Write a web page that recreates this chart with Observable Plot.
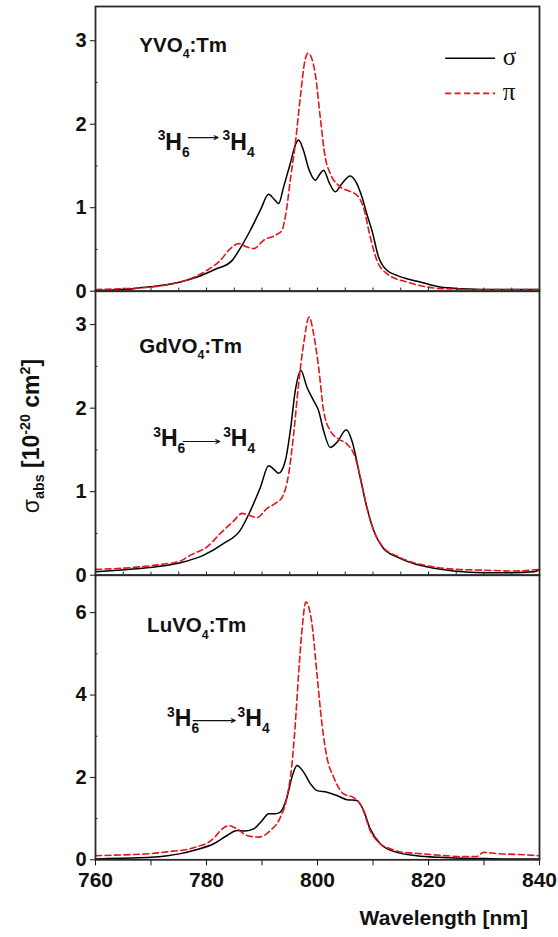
<!DOCTYPE html>
<html>
<head>
<meta charset="utf-8">
<script src="https://cdn.jsdelivr.net/npm/d3@7"></script>
<script src="https://cdn.jsdelivr.net/npm/@observablehq/plot@0.6"></script>
<style>
  html, body { margin: 0; padding: 0; background: #fff; }
  #wrap { position: relative; width: 558px; height: 937px; overflow: hidden; }
  #wrap svg { position: absolute; left: 0; top: 0; }
  svg [aria-label^="x-axis"] text { font-size: 21px; }
  .lab { position: absolute; font-family: 'Liberation Sans', Arial, sans-serif; font-weight: bold; color: #111; white-space: nowrap; }
  .lab sub, .lab sup { font-size: 62%; line-height: 0; }
</style>
</head>
<body>
<div id="wrap">
  <div class="lab" id="ylab" style="left:31px; top:436px; font-size:23px; transform: translate(-50%,-50%) rotate(-90deg);"><span style="font-weight:normal">σ</span><sub>abs</sub> [10<sup>-20</sup> cm<sup>2</sup>]</div>
  <div class="lab" id="xlab" style="right:30px; top:906px; font-size:21px;">Wavelength [nm]</div>
</div>
<script>
// ---------- data (wavelength nm, absorption cross-section 1e-20 cm^2) ----------
const yvoSigma = [[760,0.01],[765,0.02],[768,0.04],[772,0.07],[775.3,0.11],[778.3,0.17],[781.5,0.26],[784.5,0.36],[786.4,0.55],[787.9,0.73],[789.7,0.97],[791.2,1.16],[792.2,1.10],[793.0,1.05],[793.9,1.25],[795.1,1.53],[796.0,1.75],[796.6,1.81],[797.4,1.70],[798.5,1.45],[799.6,1.33],[800.4,1.40],[801.1,1.45],[802.1,1.30],[803.2,1.19],[804.3,1.28],[805.9,1.38],[807.0,1.30],[808.0,1.13],[809.0,0.90],[809.8,0.73],[811.0,0.41],[812.5,0.25],[814.3,0.19],[816.1,0.15],[818.5,0.11],[822.1,0.05],[826,0.03],[830,0.02],[840,0.02]];
const yvoPi = [[760,0.02],[765,0.03],[770,0.05],[774,0.09],[777.1,0.15],[780.1,0.25],[782.5,0.37],[784.3,0.51],[785.8,0.57],[787.3,0.53],[788.5,0.51],[790.3,0.61],[792.7,0.68],[793.6,0.73],[794.4,0.97],[795.1,1.33],[796.0,1.77],[796.9,2.32],[797.7,2.75],[798.3,2.85],[799.0,2.78],[799.6,2.60],[800.5,2.08],[801.4,1.60],[802.3,1.41],[804.1,1.25],[806.0,1.19],[807.1,1.15],[808.3,1.00],[809.5,0.65],[810.7,0.37],[812.5,0.21],[816.1,0.11],[819,0.06],[822.6,0.03],[830,0.02],[840,0.02]];
const gdvSigma = [[760,0.04],[764,0.06],[768,0.08],[772,0.11],[775.3,0.15],[779.5,0.24],[783.1,0.38],[786.1,0.54],[787.9,0.77],[789.7,1.05],[791.2,1.31],[792.1,1.27],[793.0,1.22],[794.2,1.37],[795.1,1.73],[796.0,2.21],[797.0,2.45],[798.1,2.25],[799.3,2.09],[800.2,1.97],[801.1,1.73],[802.3,1.53],[803.5,1.59],[805.2,1.74],[806.2,1.61],[807.7,1.17],[808.9,0.81],[810.1,0.54],[811.9,0.32],[814.3,0.22],[817.3,0.14],[819.7,0.10],[824.5,0.05],[830,0.03],[835,0.03],[839,0.04],[840,0.07]];
const gdvPi = [[760,0.07],[764,0.08],[768,0.10],[772,0.13],[775.3,0.17],[777.1,0.24],[780.1,0.34],[782.5,0.50],[784.9,0.65],[786.4,0.74],[787.6,0.72],[789.1,0.69],[790.9,0.80],[792.4,0.86],[793.6,0.93],[794.8,1.21],[795.7,1.69],[796.6,2.29],[797.5,2.77],[798.5,3.09],[799.3,2.89],[800.2,2.49],[801.1,1.97],[802.3,1.73],[803.8,1.63],[805.3,1.57],[806.8,1.41],[807.7,1.17],[808.9,0.81],[810.1,0.54],[811.9,0.33],[814.3,0.23],[817.3,0.15],[820,0.11],[825,0.07],[830,0.06],[835,0.05],[840,0.07]];
const luvSigma = [[760,0.02],[765,0.04],[770,0.06],[773,0.10],[775.3,0.15],[778.3,0.25],[781.3,0.39],[783.7,0.59],[785.5,0.71],[787.0,0.70],[788.5,0.75],[790.0,0.95],[791.2,1.12],[792.4,1.12],[793.3,1.16],[794.5,1.52],[795.4,2.01],[796.3,2.29],[797.5,2.13],[798.7,1.85],[799.9,1.68],[801.7,1.64],[803.5,1.56],[805.3,1.46],[807.1,1.44],[808.3,1.20],[809.5,0.75],[811.3,0.39],[814.3,0.18],[817.9,0.10],[822,0.06],[826,0.04],[830,0.03],[835,0.02],[840,0.02]];
const luvPi = [[760,0.10],[765,0.12],[770,0.15],[774,0.21],[776.5,0.25],[778.3,0.32],[780.3,0.42],[781.5,0.55],[782.5,0.71],[784.0,0.83],[785.5,0.75],[787.3,0.59],[789.4,0.55],[791.5,0.71],[793.3,1.03],[794.5,1.52],[795.4,2.33],[796.0,3.30],[796.6,4.52],[797.2,5.57],[797.9,6.26],[798.4,6.15],[799.0,5.73],[799.9,4.52],[800.8,3.30],[801.7,2.49],[802.9,2.01],[804.7,1.60],[806.5,1.51],[808.0,1.28],[809.5,0.71],[811.3,0.39],[813.1,0.27],[815,0.19],[818.5,0.15],[822,0.11],[825.7,0.08],[828.7,0.08],[829.9,0.18],[832.3,0.15],[836,0.13],[839.8,0.10]];

const xTicks = [760, 770, 780, 790, 800, 810, 820, 830, 840];
const xTickLabels = [760, 780, 800, 820, 840];
const yTicksLow = [0, 1, 2, 3];
const yMinorLow = [0.5, 1.5, 2.5];
const yTicksHigh = [0, 2, 4, 6];
const yMinorHigh = [1, 3, 5];
const insideTicks = [765, 770, 775, 780, 785, 790, 795, 800, 805, 810, 815, 820, 825, 830, 835];
const seriesNames = ["σ", "π"];
const transLeft = "^{3}H_{6}";
const transRight = "^{3}H_{4}";

// ---------- panel configuration ----------
const W = 558, H = 937;
const panels = [
  {label: "YVO_{4}:Tm", sigma: yvoSigma, pi: yvoPi, yMax: 3.41, ticks: yTicksLow, minor: yMinorLow,
   top: 6, bottom: 290.7, labelAt: [767.9, 2.94], transL: [771.2, 1.78], arrow: [776.7, 782.1, 1.84], transR: [782.9, 1.78], legend: true, xAxis: false},
  {label: "GdVO_{4}:Tm", sigma: gdvSigma, pi: gdvPi, yMax: 3.40, ticks: yTicksLow, minor: yMinorLow,
   top: 290.7, bottom: 574.7, labelAt: [767.9, 2.74], transL: [770.4, 1.63], arrow: [775.8, 782.4, 1.60], transR: [783.0, 1.63], legend: false, xAxis: false},
  {label: "LuVO_{4}:Tm", sigma: luvSigma, pi: luvPi, yMax: 6.91, ticks: yTicksHigh, minor: yMinorHigh,
   top: 574.7, bottom: 859.3, labelAt: [769.3, 5.68], transL: [772.9, 3.42], arrow: [777.6, 785.2, 3.38], transR: [785.6, 3.42], legend: false, xAxis: true}
];

function richify(svg) {
  svg.querySelectorAll("text").forEach(t => {
    const s = t.textContent;
    if (!/[_^]\{/.test(s)) return;
    const g = t.closest("[font-size]");
    const base = g ? parseFloat(g.getAttribute("font-size")) : 20;
    t.textContent = "";
    const re = /([_^])\{([^}]*)\}|([^_^]+)/g;
    let m, shift = 0;
    while ((m = re.exec(s))) {
      const ts = document.createElementNS("http://www.w3.org/2000/svg", "tspan");
      let d = 0;
      if (m[3] !== undefined) {
        ts.textContent = m[3];
      } else {
        ts.textContent = m[2];
        ts.setAttribute("font-size", (base * 0.6).toFixed(1));
        d = m[1] === "_" ? base * 0.3 : -base * 0.42;
      }
      ts.setAttribute("dy", (d - shift).toFixed(2));
      shift = d;
      t.appendChild(ts);
    }
  });
}

const wrap = document.getElementById("wrap");
const font = "'Liberation Sans', Arial, sans-serif";

panels.forEach(p => {
  const sig = p.sigma.map(([x, y]) => ({x, y, s: seriesNames[0]}));
  const pis = p.pi.map(([x, y]) => ({x, y, s: seriesNames[1]}));
  const marks = [
    Plot.ruleY(p.minor, {y: d => d, x1: 760, x2: 760.45, stroke: "#222", strokeWidth: 1}),
    Plot.line(sig, {x: "x", y: "y", stroke: "#000", strokeWidth: 1.5, curve: "monotone-x"}),
    Plot.line(pis, {x: "x", y: "y", stroke: "#e3151b", strokeWidth: 1.6, strokeDasharray: "6,3.5", curve: "monotone-x"}),
    Plot.text([p.label], {x: () => p.labelAt[0], y: () => p.labelAt[1], text: d => d, textAnchor: "start", fontSize: 20.5, fontWeight: "bold", fill: "#111"}),
    Plot.text([transLeft], {x: () => p.transL[0], y: () => p.transL[1], text: d => d, textAnchor: "start", fontSize: 23, fontWeight: "bold", fill: "#111"}),
    Plot.text([transRight], {x: () => p.transR[0], y: () => p.transR[1], text: d => d, textAnchor: "start", fontSize: 23, fontWeight: "bold", fill: "#111"}),
    Plot.arrow([p.arrow], {x1: d => d[0], x2: d => d[1], y1: d => d[2], y2: d => d[2], stroke: "#111", strokeWidth: 1.1, headLength: 6, headAngle: 50})
  ];
  if (!p.xAxis) {
    marks.push(Plot.ruleX(insideTicks, {x: d => d, y1: 0, y2: p.yMax * 0.011, stroke: "#222", strokeWidth: 1}));
  }
  if (p.legend) {
    const leg = [{name: seriesNames[0], y: 2.79}, {name: seriesNames[1], y: 2.37}];
    marks.push(Plot.link(leg.slice(0, 1), {x1: 823.0, x2: 832.0, y1: "y", y2: "y", stroke: "#000", strokeWidth: 1.5}));
    marks.push(Plot.link(leg.slice(1), {x1: 823.0, x2: 832.0, y1: "y", y2: "y", stroke: "#e3151b", strokeWidth: 1.6, strokeDasharray: "6,3.5"}));
    marks.push(Plot.text(leg, {x: 833.4, y: "y", text: "name", textAnchor: "start", fontSize: 25, fontWeight: "normal", fontFamily: "'Liberation Serif', 'DejaVu Serif', serif", fill: "#111", dy: -1}));
  }
  marks.push(Plot.frame({stroke: "#2a2a2a", strokeWidth: 1.8}));

  const svg = Plot.plot({
    width: W,
    height: H,
    marginLeft: 95,
    marginRight: W - 539,
    marginTop: p.top,
    marginBottom: H - p.bottom,
    style: {background: "transparent", overflow: "visible", fontFamily: font, fontWeight: "bold", fontSize: "20px", color: "#111"},
    x: p.xAxis
      ? {domain: [760, 840], ticks: xTicks, tickFormat: d => xTickLabels.includes(d) ? String(d) : "", tickSize: 6, tickPadding: 6, label: null}
      : {domain: [760, 840], axis: null},
    y: {domain: [0, p.yMax], ticks: p.ticks, tickSize: 5, tickPadding: 4, label: null, tickFormat: d => String(d)},
    marks
  });
  richify(svg);
  wrap.appendChild(svg);
});
</script>
</body>
</html>
